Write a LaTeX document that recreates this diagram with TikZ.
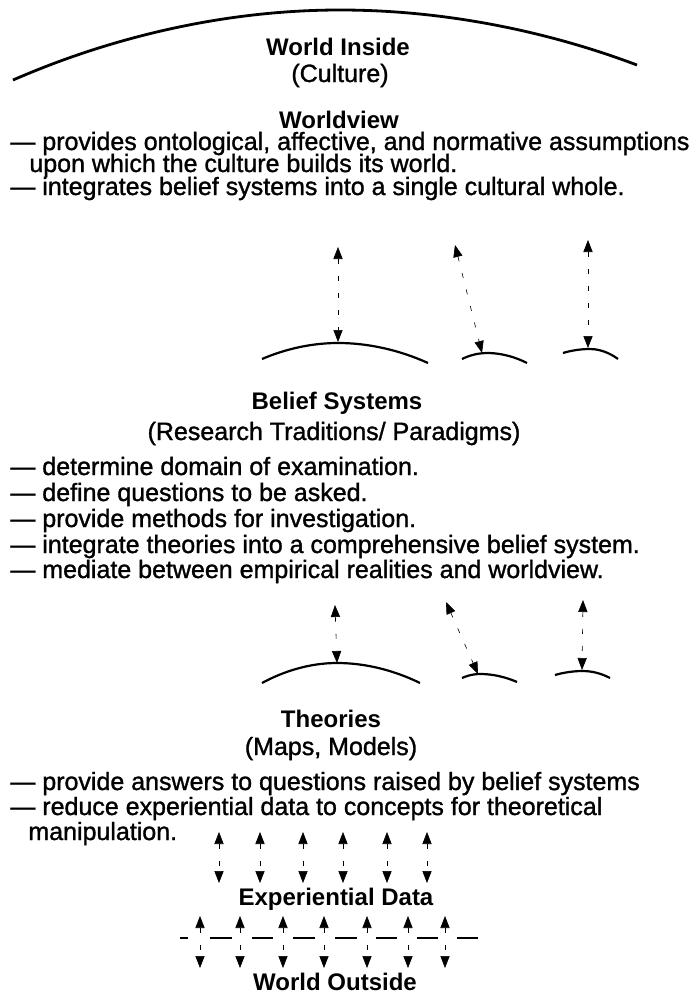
\documentclass[tikz,border=0pt]{standalone}
\usepackage{fontspec}
\setmainfont{Liberation Sans}
\newfontfamily\bodyfont[FakeBold=1.2]{Liberation Sans}
\usetikzlibrary{arrows.meta}

\begin{document}
\begin{tikzpicture}[x=0.5pt,y=-0.5pt,
		head/.style={font=\fontsize{12}{14}\selectfont\bfseries,anchor=base,inner sep=0pt},
		sub/.style={font=\bodyfont\fontsize{12.5}{14}\selectfont,anchor=base,inner sep=0pt},
		txt/.style={font=\bodyfont\fontsize{12.5}{14}\selectfont,anchor=base west,inner sep=0pt},
		rim/.style={line width=1.1pt},
		link/.style={{Triangle[length=6pt,width=4.6pt]}-{Triangle[length=6pt,width=4.6pt]},line width=0.3pt,dash pattern=on 2.5pt off 6pt}]
	\useasboundingbox (0,0) rectangle (698,996);
	% world inside
	\draw[line width=1.4pt] (13,80) parabola bend (340,10) (637,65);
	\node[head] (inside) at (338,55) {World Inside};
	\node[sub] (culture) at (340,82) {(Culture)};
	% worldview
	\node[head] (view) at (339,128) {Worldview};
	\node[txt] (w1) at (10,150) {— provides ontological, affective, and normative assumptions};
	\node[txt] (w2) at (29,172) {upon which the culture builds its world.};
	\node[txt] (w3) at (10,195) {— integrates belief systems into a single cultural whole.};
	% worldview <-> belief systems
	\coordinate (vu1) at (338,247);
	\coordinate (vu2) at (455,245);
	\coordinate (vu3) at (588,240);
	\coordinate (vd1) at (338,342);
	\coordinate (vd2) at (482,353);
	\coordinate (vd3) at (588,348);
	\foreach \i in {1,2,3}
		\draw[link] (vu\i) -- (vd\i);
	\draw[rim] (262,359) parabola bend (338,343) (428,363);
	\draw[rim] (462,359) parabola bend (487,353) (527,363);
	\draw[rim] (563,353) parabola bend (590,349) (618,359);
	% belief systems
	\node[head] (belief) at (337,409) {Belief Systems};
	\node[sub] (research) at (334,440) {(Research Traditions/ Paradigms)};
	\node[txt] (b1) at (10,475) {— determine domain of examination.};
	\node[txt] (b2) at (10,501) {— define questions to be asked.};
	\node[txt] (b3) at (10,527) {— provide methods for investigation.};
	\node[txt] (b4) at (10,553) {— integrate theories into a comprehensive belief system.};
	\node[txt] (b5) at (10,578) {— mediate between empirical realities and worldview.};
	% belief systems <-> theories
	\coordinate (bu1) at (335,605);
	\coordinate (bu2) at (446,602);
	\coordinate (bu3) at (583,600);
	\coordinate (bd1) at (337,663);
	\coordinate (bd2) at (478,674);
	\coordinate (bd3) at (582,670);
	\foreach \i in {1,2,3}
		\draw[link] (bu\i) -- (bd\i);
	\draw[rim] (262,683) parabola bend (337,663) (420,683);
	\draw[rim] (462,678) parabola bend (480,674) (517,682);
	\draw[rim] (555,675) parabola bend (583,671) (610,678);
	% theories
	\node[head] (theories) at (331,727) {Theories};
	\node[sub] (maps) at (331,755) {(Maps, Models)};
	\node[txt] (t1) at (10,790) {— provide answers to questions raised by belief systems};
	\node[txt] (t2) at (10,815) {— reduce experiential data to concepts for theoretical};
	\node[txt] (t3) at (28,840) {manipulation.};
	% theories <-> experiential data
	\foreach \x [count=\i] in {219,260,303,343,387,427} {
		\coordinate (tu\i) at (\x,832);
		\coordinate (td\i) at (\x,883);
		\draw[link] (tu\i) -- (td\i);
	}
	\node[head] (data) at (336,905) {Experiential Data};
	% experiential data <-> world outside
	\foreach \x [count=\i] in {200,240,283,324,367,408,445} {
		\coordinate (eu\i) at (\x,916);
		\coordinate (ed\i) at (\x,968);
		\draw[link] (eu\i) -- (ed\i);
	}
	\foreach \a/\b in {180/188,210/232,252/273,293/315,335/357,376/397,417/438,457/478}
		\draw[line width=1pt] (\a,938) -- (\b,938);
	\node[head] (outside) at (335,990) {World Outside};
\end{tikzpicture}
\end{document}
